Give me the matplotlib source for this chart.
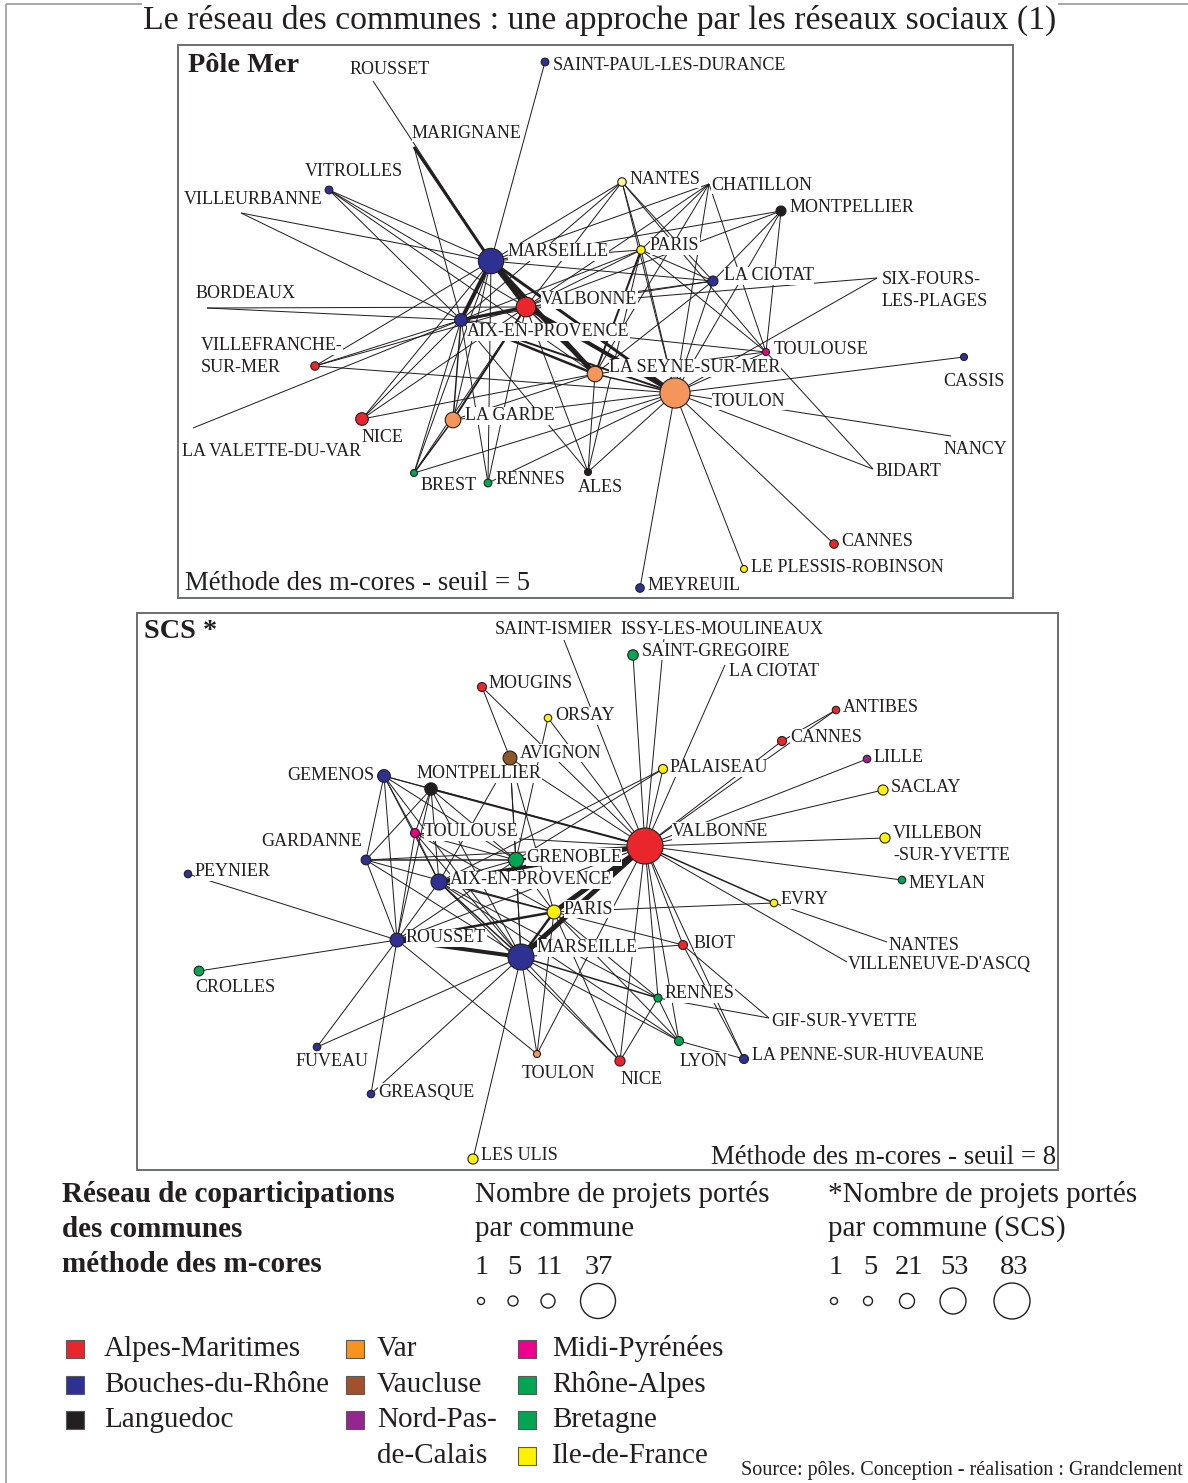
import numpy as np
import matplotlib
matplotlib.use("Agg")
import matplotlib.pyplot as plt
from matplotlib.patches import Circle, Rectangle

plt.rcParams["font.family"] = ["Liberation Serif", "DejaVu Serif"]
INK = "#231F20"

# region colours
region_colors = {
    "AM": "#E8262B", "BDR": "#2E3192", "LANG": "#231F20", "VAR": "#F4955C",
    "VAUC": "#8B5A2B", "NPC": "#92278F", "MP": "#E6007E", "RA": "#00A651",
    "BRE": "#00A651", "IDF": "#FFF200", "PDL": "#FFF799",
}

# ---------------- Pôle Mer network ----------------
top_pos = {
    "MARSEILLE": (491, 261), "VALBONNE": (526, 307), "AIX-EN-PROVENCE": (461, 320),
    "VITROLLES": (329, 190), "SAINT-PAUL-LES-DURANCE": (545, 62), "ROUSSET": (373, 81),
    "MARIGNANE": (414, 147), "VILLEURBANNE": (241, 213), "BORDEAUX": (207, 308),
    "VILLEFRANCHE-SUR-MER": (315, 366), "NICE": (362, 419), "LA GARDE": (453, 420),
    "BREST": (414, 473), "RENNES": (488, 483), "ALES": (588, 472),
    "LA VALETTE-DU-VAR": (193, 428), "LA SEYNE-SUR-MER": (595, 374), "TOULON": (675, 393),
    "TOULOUSE": (766, 352), "CASSIS": (964, 357), "NANCY": (951, 436), "BIDART": (873, 469),
    "CANNES": (834, 544), "LE PLESSIS-ROBINSON": (744, 569), "MEYREUIL": (640, 588),
    "NANTES": (622, 182), "CHATILLON": (709, 184), "MONTPELLIER": (781, 211),
    "PARIS": (641, 250), "LA CIOTAT": (713, 281), "SIX-FOURS-LES-PLAGES": (877, 278),
}
top_region = {
    "MARSEILLE": "BDR", "VALBONNE": "AM", "AIX-EN-PROVENCE": "BDR", "VITROLLES": "BDR",
    "SAINT-PAUL-LES-DURANCE": "BDR", "VILLEFRANCHE-SUR-MER": "AM", "NICE": "AM",
    "LA GARDE": "VAR", "BREST": "BRE", "RENNES": "BRE", "ALES": "LANG",
    "LA SEYNE-SUR-MER": "VAR", "TOULON": "VAR", "TOULOUSE": "MP", "CASSIS": "BDR",
    "CANNES": "AM", "LE PLESSIS-ROBINSON": "IDF", "MEYREUIL": "BDR", "NANTES": "PDL",
    "MONTPELLIER": "LANG", "PARIS": "IDF", "LA CIOTAT": "BDR",
}
top_projects = {
    "MARSEILLE": 25, "VALBONNE": 18, "AIX-EN-PROVENCE": 9, "VITROLLES": 2,
    "SAINT-PAUL-LES-DURANCE": 2, "VILLEFRANCHE-SUR-MER": 3, "NICE": 9, "LA GARDE": 13,
    "BREST": 1, "RENNES": 2, "ALES": 1, "LA SEYNE-SUR-MER": 13, "TOULON": 31,
    "TOULOUSE": 1, "CASSIS": 1, "CANNES": 3, "LE PLESSIS-ROBINSON": 1, "MEYREUIL": 3,
    "NANTES": 3, "MONTPELLIER": 5, "PARIS": 3, "LA CIOTAT": 5,
}
top_labels = {
    "ROUSSET": ("ROUSSET", 350, 70, "left"),
    "SAINT-PAUL-LES-DURANCE": ("SAINT-PAUL-LES-DURANCE", 553, 65, "left"),
    "MARIGNANE": ("MARIGNANE", 412, 133, "left"),
    "VITROLLES": ("VITROLLES", 305, 171, "left"),
    "VILLEURBANNE": ("VILLEURBANNE", 184, 200, "left"),
    "MARSEILLE": ("MARSEILLE", 508, 252, "left"),
    "PARIS": ("PARIS", 650, 246, "left"),
    "NANTES": ("NANTES", 630, 179, "left"),
    "CHATILLON": ("CHATILLON", 711, 185, "left"),
    "MONTPELLIER": ("MONTPELLIER", 790, 207, "left"),
    "LA CIOTAT": ("LA CIOTAT", 724, 276, "left"),
    "SIX-FOURS-LES-PLAGES": ("SIX-FOURS-\nLES-PLAGES", 882, 280, "left"),
    "BORDEAUX": ("BORDEAUX", 196, 293, "left"),
    "VALBONNE": ("VALBONNE", 541, 300, "left"),
    "AIX-EN-PROVENCE": ("AIX-EN-PROVENCE", 467, 332, "left"),
    "VILLEFRANCHE-SUR-MER": ("VILLEFRANCHE-\nSUR-MER", 201, 346, "left"),
    "TOULOUSE": ("TOULOUSE", 774, 350, "left"),
    "LA SEYNE-SUR-MER": ("LA SEYNE-SUR-MER", 609, 368, "left"),
    "CASSIS": ("CASSIS", 943, 382, "left"),
    "TOULON": ("TOULON", 712, 401, "left"),
    "LA GARDE": ("LA GARDE", 465, 416, "left"),
    "NICE": ("NICE", 362, 437, "left"),
    "LA VALETTE-DU-VAR": ("LA VALETTE-DU-VAR", 182, 452, "left"),
    "NANCY": ("NANCY", 944, 450, "left"),
    "BIDART": ("BIDART", 876, 472, "left"),
    "BREST": ("BREST", 421, 485, "left"),
    "RENNES": ("RENNES", 496, 480, "left"),
    "ALES": ("ALES", 578, 488, "left"),
    "CANNES": ("CANNES", 841, 541, "left"),
    "LE PLESSIS-ROBINSON": ("LE PLESSIS-ROBINSON", 751, 567, "left"),
    "MEYREUIL": ("MEYREUIL", 648, 586, "left"),
}
top_edges = [
    ("ROUSSET", "MARSEILLE", 1), ("MARIGNANE", "MARSEILLE", 3), ("MARIGNANE", "AIX-EN-PROVENCE", 1),
    ("SAINT-PAUL-LES-DURANCE", "MARSEILLE", 1),
    ("VITROLLES", "MARSEILLE", 1), ("VITROLLES", "AIX-EN-PROVENCE", 1), ("VITROLLES", "VALBONNE", 1),
    ("VITROLLES", "LA SEYNE-SUR-MER", 1),
    ("VILLEURBANNE", "MARSEILLE", 1), ("VILLEURBANNE", "AIX-EN-PROVENCE", 1),
    ("BORDEAUX", "VALBONNE", 1), ("BORDEAUX", "AIX-EN-PROVENCE", 1),
    ("VILLEFRANCHE-SUR-MER", "MARSEILLE", 1), ("VILLEFRANCHE-SUR-MER", "AIX-EN-PROVENCE", 1),
    ("VILLEFRANCHE-SUR-MER", "VALBONNE", 1), ("VILLEFRANCHE-SUR-MER", "TOULON", 1),
    ("LA VALETTE-DU-VAR", "AIX-EN-PROVENCE", 1),
    ("NICE", "AIX-EN-PROVENCE", 1), ("NICE", "MARSEILLE", 1), ("NICE", "VALBONNE", 1),
    ("NICE", "LA SEYNE-SUR-MER", 1),
    ("LA GARDE", "AIX-EN-PROVENCE", 1.5), ("LA GARDE", "MARSEILLE", 1), ("LA GARDE", "VALBONNE", 2),
    ("LA GARDE", "TOULON", 1), ("LA GARDE", "LA SEYNE-SUR-MER", 1), ("LA GARDE", "BREST", 1.5),
    ("BREST", "AIX-EN-PROVENCE", 1), ("BREST", "MARSEILLE", 1), ("BREST", "VALBONNE", 1), ("BREST", "TOULON", 1),
    ("RENNES", "AIX-EN-PROVENCE", 1), ("RENNES", "MARSEILLE", 1), ("RENNES", "VALBONNE", 1), ("RENNES", "TOULON", 1),
    ("ALES", "AIX-EN-PROVENCE", 1), ("ALES", "VALBONNE", 1), ("ALES", "LA SEYNE-SUR-MER", 1),
    ("ALES", "TOULON", 1), ("ALES", "PARIS", 1),
    ("MARSEILLE", "VALBONNE", 4), ("MARSEILLE", "AIX-EN-PROVENCE", 4), ("MARSEILLE", "LA SEYNE-SUR-MER", 5),
    ("MARSEILLE", "TOULON", 3), ("MARSEILLE", "PARIS", 1), ("MARSEILLE", "LA CIOTAT", 1),
    ("MARSEILLE", "NANTES", 1), ("MARSEILLE", "CHATILLON", 1), ("MARSEILLE", "MONTPELLIER", 1),
    ("VALBONNE", "TOULON", 4), ("VALBONNE", "AIX-EN-PROVENCE", 3), ("VALBONNE", "LA SEYNE-SUR-MER", 1.5),
    ("VALBONNE", "PARIS", 1), ("VALBONNE", "LA CIOTAT", 1), ("VALBONNE", "SIX-FOURS-LES-PLAGES", 1),
    ("VALBONNE", "NANTES", 1), ("VALBONNE", "CHATILLON", 1), ("VALBONNE", "MONTPELLIER", 1),
    ("AIX-EN-PROVENCE", "LA SEYNE-SUR-MER", 2.5), ("AIX-EN-PROVENCE", "TOULON", 2),
    ("AIX-EN-PROVENCE", "PARIS", 1), ("AIX-EN-PROVENCE", "LA CIOTAT", 1),
    ("AIX-EN-PROVENCE", "TOULOUSE", 1), ("AIX-EN-PROVENCE", "NANTES", 1),
    ("LA SEYNE-SUR-MER", "TOULON", 1.5), ("LA SEYNE-SUR-MER", "PARIS", 2), ("LA SEYNE-SUR-MER", "TOULOUSE", 1),
    ("LA SEYNE-SUR-MER", "CHATILLON", 1), ("LA SEYNE-SUR-MER", "LA CIOTAT", 1),
    ("TOULON", "CASSIS", 1), ("TOULON", "NANCY", 1), ("TOULON", "BIDART", 1), ("TOULON", "CANNES", 1),
    ("TOULON", "LE PLESSIS-ROBINSON", 1), ("TOULON", "MEYREUIL", 1), ("TOULON", "TOULOUSE", 1),
    ("TOULON", "LA CIOTAT", 1), ("TOULON", "PARIS", 1), ("TOULON", "MONTPELLIER", 1),
    ("TOULON", "NANTES", 1), ("TOULON", "CHATILLON", 1), ("TOULON", "SIX-FOURS-LES-PLAGES", 1),
    ("TOULOUSE", "CHATILLON", 1), ("TOULOUSE", "NANTES", 1), ("TOULOUSE", "BIDART", 1),
    ("TOULOUSE", "MONTPELLIER", 1), ("TOULOUSE", "PARIS", 1),
    ("NANTES", "PARIS", 1), ("NANTES", "LA CIOTAT", 1), ("CHATILLON", "PARIS", 1),
    ("PARIS", "LA CIOTAT", 1), ("MONTPELLIER", "LA CIOTAT", 1),
]

# ---------------- SCS network ----------------
bot_pos = {
    "VALBONNE": (645, 846), "MARSEILLE": (521, 957), "ROUSSET": (397, 940),
    "AIX-EN-PROVENCE": (439, 882), "PARIS": (554, 912), "GRENOBLE": (516, 860),
    "TOULOUSE": (415, 833), "GARDANNE": (366, 860), "PEYNIER": (188, 874),
    "GEMENOS": (384, 776), "MONTPELLIER": (431, 789), "AVIGNON": (510, 758),
    "MOUGINS": (482, 687), "ORSAY": (548, 718), "SAINT-ISMIER": (564, 640),
    "ISSY-LES-MOULINEAUX": (664, 638), "SAINT-GREGOIRE": (633, 655), "LA CIOTAT": (725, 665),
    "ANTIBES": (836, 710), "CANNES": (782, 741), "LILLE": (867, 759), "SACLAY": (883, 790),
    "VILLEBON-SUR-YVETTE": (885, 838), "MEYLAN": (902, 880), "PALAISEAU": (663, 769),
    "EVRY": (774, 903), "NANTES": (887, 942), "VILLENEUVE-D'ASCQ": (847, 962),
    "BIOT": (683, 945), "RENNES": (658, 998), "GIF-SUR-YVETTE": (769, 1018),
    "LYON": (679, 1041), "LA PENNE-SUR-HUVEAUNE": (744, 1059), "NICE": (620, 1061),
    "TOULON": (537, 1054), "LES ULIS": (473, 1159), "GREASQUE": (371, 1094),
    "FUVEAU": (317, 1047), "CROLLES": (199, 971),
}
bot_region = {
    "VALBONNE": "AM", "MARSEILLE": "BDR", "ROUSSET": "BDR", "AIX-EN-PROVENCE": "BDR",
    "PARIS": "IDF", "GRENOBLE": "RA", "TOULOUSE": "MP", "GARDANNE": "BDR", "PEYNIER": "BDR",
    "GEMENOS": "BDR", "MONTPELLIER": "LANG", "AVIGNON": "VAUC", "MOUGINS": "AM", "ORSAY": "IDF",
    "SAINT-GREGOIRE": "BRE", "ANTIBES": "AM", "CANNES": "AM", "LILLE": "NPC", "SACLAY": "IDF",
    "VILLEBON-SUR-YVETTE": "IDF", "MEYLAN": "RA", "PALAISEAU": "IDF", "EVRY": "IDF",
    "BIOT": "AM", "RENNES": "BRE", "LYON": "RA", "LA PENNE-SUR-HUVEAUNE": "BDR", "NICE": "AM",
    "TOULON": "VAR", "LES ULIS": "IDF", "GREASQUE": "BDR", "FUVEAU": "BDR", "CROLLES": "RA",
}
bot_projects = {
    "VALBONNE": 83, "MARSEILLE": 53, "ROUSSET": 18, "AIX-EN-PROVENCE": 24, "PARIS": 18,
    "GRENOBLE": 21, "TOULOUSE": 5, "GARDANNE": 7, "PEYNIER": 2, "GEMENOS": 15,
    "MONTPELLIER": 14, "AVIGNON": 18, "MOUGINS": 5, "ORSAY": 2, "SAINT-GREGOIRE": 9,
    "ANTIBES": 2, "CANNES": 5, "LILLE": 2, "SACLAY": 8, "VILLEBON-SUR-YVETTE": 8,
    "MEYLAN": 2, "PALAISEAU": 5, "EVRY": 2, "BIOT": 5, "RENNES": 3, "LYON": 5,
    "LA PENNE-SUR-HUVEAUNE": 5, "NICE": 8, "TOULON": 1, "LES ULIS": 8, "GREASQUE": 2,
    "FUVEAU": 2, "CROLLES": 7,
}
bot_labels = {
    "SAINT-ISMIER": ("SAINT-ISMIER", 495, 630, "left"),
    "ISSY-LES-MOULINEAUX": ("ISSY-LES-MOULINEAUX", 620, 630, "left"),
    "SAINT-GREGOIRE": ("SAINT-GREGOIRE", 642, 651, "left"),
    "LA CIOTAT": ("LA CIOTAT", 729, 672, "left"),
    "MOUGINS": ("MOUGINS", 489, 684, "left"),
    "ANTIBES": ("ANTIBES", 843, 708, "left"),
    "ORSAY": ("ORSAY", 555, 716, "left"),
    "CANNES": ("CANNES", 790, 738, "left"),
    "AVIGNON": ("AVIGNON", 520, 753, "left"),
    "LILLE": ("LILLE", 874, 758, "left"),
    "PALAISEAU": ("PALAISEAU", 670, 768, "left"),
    "GEMENOS": ("GEMENOS", 374, 775, "right"),
    "MONTPELLIER": ("MONTPELLIER", 417, 774, "left"),
    "SACLAY": ("SACLAY", 891, 787, "left"),
    "TOULOUSE": ("TOULOUSE", 424, 832, "left"),
    "VALBONNE": ("VALBONNE", 672, 831, "left"),
    "VILLEBON-SUR-YVETTE": ("VILLEBON\n-SUR-YVETTE", 893, 834, "left"),
    "GARDANNE": ("GARDANNE", 362, 841, "right"),
    "GRENOBLE": ("GRENOBLE", 526, 857, "left"),
    "PEYNIER": ("PEYNIER", 195, 872, "left"),
    "AIX-EN-PROVENCE": ("AIX-EN-PROVENCE", 450, 880, "left"),
    "MEYLAN": ("MEYLAN", 909, 883, "left"),
    "EVRY": ("EVRY", 781, 900, "left"),
    "PARIS": ("PARIS", 564, 909, "left"),
    "ROUSSET": ("ROUSSET", 406, 938, "left"),
    "BIOT": ("BIOT", 694, 943, "left"),
    "NANTES": ("NANTES", 889, 945, "left"),
    "MARSEILLE": ("MARSEILLE", 537, 948, "left"),
    "VILLENEUVE-D'ASCQ": ("VILLENEUVE-D'ASCQ", 848, 964, "left"),
    "CROLLES": ("CROLLES", 195, 988, "left"),
    "RENNES": ("RENNES", 665, 994, "left"),
    "GIF-SUR-YVETTE": ("GIF-SUR-YVETTE", 771, 1021, "left"),
    "LA PENNE-SUR-HUVEAUNE": ("LA PENNE-SUR-HUVEAUNE", 752, 1056, "left"),
    "FUVEAU": ("FUVEAU", 296, 1062, "left"),
    "LYON": ("LYON", 680, 1061, "left"),
    "TOULON": ("TOULON", 522, 1074, "left"),
    "NICE": ("NICE", 621, 1079, "left"),
    "GREASQUE": ("GREASQUE", 378, 1092, "left"),
    "LES ULIS": ("LES ULIS", 481, 1156, "left"),
}
bot_edges = [
    ("VALBONNE", "SAINT-ISMIER", 1), ("VALBONNE", "ISSY-LES-MOULINEAUX", 1), ("VALBONNE", "SAINT-GREGOIRE", 1),
    ("VALBONNE", "LA CIOTAT", 1), ("VALBONNE", "PALAISEAU", 1), ("VALBONNE", "CANNES", 1),
    ("VALBONNE", "ANTIBES", 1), ("VALBONNE", "LILLE", 1), ("VALBONNE", "SACLAY", 1),
    ("VALBONNE", "VILLEBON-SUR-YVETTE", 1), ("VALBONNE", "MEYLAN", 1), ("VALBONNE", "EVRY", 1.5),
    ("VALBONNE", "VILLENEUVE-D'ASCQ", 1), ("VALBONNE", "BIOT", 1), ("VALBONNE", "RENNES", 1),
    ("VALBONNE", "LYON", 1), ("VALBONNE", "NICE", 1), ("VALBONNE", "LA PENNE-SUR-HUVEAUNE", 1),
    ("VALBONNE", "ORSAY", 1), ("VALBONNE", "AVIGNON", 1), ("VALBONNE", "MOUGINS", 1),
    ("VALBONNE", "MONTPELLIER", 2), ("VALBONNE", "GEMENOS", 1), ("VALBONNE", "GRENOBLE", 2.5),
    ("VALBONNE", "AIX-EN-PROVENCE", 4), ("VALBONNE", "PARIS", 5), ("VALBONNE", "MARSEILLE", 5),
    ("VALBONNE", "ROUSSET", 1), ("VALBONNE", "TOULOUSE", 1), ("VALBONNE", "GARDANNE", 1),
    ("VALBONNE", "TOULON", 1), ("CANNES", "ANTIBES", 1),
    ("MARSEILLE", "ROUSSET", 4), ("MARSEILLE", "AIX-EN-PROVENCE", 1.5), ("MARSEILLE", "PARIS", 2.5),
    ("MARSEILLE", "GRENOBLE", 1), ("MARSEILLE", "TOULOUSE", 1), ("MARSEILLE", "GEMENOS", 1),
    ("MARSEILLE", "MONTPELLIER", 1), ("MARSEILLE", "GARDANNE", 1), ("MARSEILLE", "BIOT", 1),
    ("MARSEILLE", "RENNES", 1.5), ("MARSEILLE", "LYON", 1), ("MARSEILLE", "NICE", 1),
    ("MARSEILLE", "TOULON", 1), ("MARSEILLE", "LES ULIS", 1), ("MARSEILLE", "GREASQUE", 1),
    ("MARSEILLE", "FUVEAU", 1), ("MARSEILLE", "AVIGNON", 1),
    ("ROUSSET", "PEYNIER", 1), ("ROUSSET", "CROLLES", 1), ("ROUSSET", "FUVEAU", 1),
    ("ROUSSET", "GREASQUE", 1), ("ROUSSET", "AIX-EN-PROVENCE", 1), ("ROUSSET", "PARIS", 2.5),
    ("ROUSSET", "GEMENOS", 1), ("ROUSSET", "GARDANNE", 1), ("ROUSSET", "TOULOUSE", 1),
    ("ROUSSET", "MONTPELLIER", 1), ("ROUSSET", "TOULON", 1), ("ROUSSET", "GRENOBLE", 1),
    ("GARDANNE", "GEMENOS", 1), ("GARDANNE", "MONTPELLIER", 1), ("GARDANNE", "GRENOBLE", 1.5),
    ("GARDANNE", "PARIS", 1),
    ("GEMENOS", "MONTPELLIER", 1), ("GEMENOS", "TOULOUSE", 1), ("GEMENOS", "AIX-EN-PROVENCE", 1),
    ("GEMENOS", "GRENOBLE", 1),
    ("MONTPELLIER", "TOULOUSE", 1), ("MONTPELLIER", "GRENOBLE", 1), ("MONTPELLIER", "AIX-EN-PROVENCE", 1),
    ("TOULOUSE", "GRENOBLE", 1), ("TOULOUSE", "PARIS", 1), ("TOULOUSE", "AIX-EN-PROVENCE", 1),
    ("AVIGNON", "MOUGINS", 1), ("AVIGNON", "GRENOBLE", 1), ("AVIGNON", "AIX-EN-PROVENCE", 1),
    ("AVIGNON", "PARIS", 1), ("ORSAY", "GRENOBLE", 1),
    ("GRENOBLE", "PARIS", 1), ("GRENOBLE", "AIX-EN-PROVENCE", 1),
    ("AIX-EN-PROVENCE", "PARIS", 1.5), ("AIX-EN-PROVENCE", "NICE", 1), ("AIX-EN-PROVENCE", "RENNES", 1),
    ("AIX-EN-PROVENCE", "LYON", 1),
    ("PARIS", "EVRY", 1), ("PARIS", "BIOT", 1), ("PARIS", "RENNES", 1), ("PARIS", "LYON", 1),
    ("PARIS", "NICE", 1), ("PARIS", "TOULON", 1), ("EVRY", "NANTES", 1),
    ("BIOT", "GIF-SUR-YVETTE", 1), ("BIOT", "LA PENNE-SUR-HUVEAUNE", 1),
    ("RENNES", "GIF-SUR-YVETTE", 1), ("RENNES", "LYON", 1), ("RENNES", "NICE", 1),
    ("LYON", "LA PENNE-SUR-HUVEAUNE", 1),
    ("PALAISEAU", "GRENOBLE", 1), ("PALAISEAU", "AIX-EN-PROVENCE", 1),
]

# size legends
top_legend_values = [1, 5, 11, 37]
top_legend_radius = [3.5, 5, 7, 17.5]
bot_legend_values = [1, 5, 21, 53, 83]
bot_legend_radius = [3.5, 4.5, 7.5, 13, 18]

legend_regions = ["Alpes-Maritimes", "Bouches-du-Rhône", "Languedoc", "Var", "Vaucluse",
                  "Nord-Pas-\nde-Calais", "Midi-Pyrénées", "Rhône-Alpes", "Bretagne", "Ile-de-France"]
legend_colors = ["#E8262B", "#2E3192", "#231F20", "#F7941D", "#A0522D",
                 "#92278F", "#EC008C", "#00A651", "#00A651", "#FFF200"]

W, H = 1188, 1483
fig = plt.figure(figsize=(W / 100, H / 100), dpi=100)
ax = fig.add_axes([0, 0, 1, 1])
ax.set_xlim(0, W)
ax.set_ylim(H, 0)
ax.axis("off")

PX = 0.72  # px -> pt
LINE_GAP = 22


def draw_network(pos, region, projects, labels, edges, lv, lr):
    for a, b, w in edges:
        (x1, y1), (x2, y2) = pos[a], pos[b]
        ax.plot([x1, x2], [y1, y2], color=INK, lw=w * PX, solid_capstyle="butt", zorder=1)
    for name, (txt, lx, ly, ha) in labels.items():
        for k, line in enumerate(txt.split("\n")):
            ax.text(lx, ly + k * LINE_GAP, line, fontsize=13, color=INK, ha=ha, va="center",
                    zorder=2, bbox=dict(facecolor="white", edgecolor="none", pad=0.3))
    for name, reg in region.items():
        r = np.interp(projects[name], lv, lr)
        x, y = pos[name]
        ax.add_patch(Circle((x, y), r, facecolor=region_colors[reg], edgecolor=INK,
                            lw=0.8, zorder=3))


# outer frame
ax.add_patch(Rectangle((6, 4), W, H, fill=False, edgecolor="#9A9A9A", lw=1.2, zorder=0))
ax.text(600, 20, "Le réseau des communes : une approche par les réseaux sociaux (1)",
        fontsize=24.3, color=INK, ha="center", va="center",
        bbox=dict(facecolor="white", edgecolor="none", pad=1))

# panels
ax.add_patch(Rectangle((178, 45), 835, 553, fill=False, edgecolor="#6D6E71", lw=1.4, zorder=0))
ax.add_patch(Rectangle((137, 613), 921, 557, fill=False, edgecolor="#6D6E71", lw=1.4, zorder=0))

draw_network(top_pos, top_region, top_projects, top_labels, top_edges,
             top_legend_values, top_legend_radius)
draw_network(bot_pos, bot_region, bot_projects, bot_labels, bot_edges,
             bot_legend_values, bot_legend_radius)

ax.text(188, 65, "Pôle Mer", fontsize=20.3, fontweight="bold", color=INK, ha="left", va="center")
ax.text(144, 632, "SCS *", fontsize=20.3, fontweight="bold", color=INK, ha="left", va="center")
ax.text(185, 584, "Méthode des m-cores - seuil = 5", fontsize=19.3, color=INK, ha="left", va="center")
ax.text(1056, 1158, "Méthode des m-cores - seuil = 8", fontsize=19.3, color=INK, ha="right", va="center")

# legend titles
for k, line in enumerate(["Réseau de coparticipations", "des communes", "méthode des m-cores"]):
    ax.text(62, 1194 + k * 35.5, line, fontsize=21, fontweight="bold", color=INK, ha="left", va="center")
for k, line in enumerate(["Nombre de projets portés", "par commune"]):
    ax.text(475, 1194 + k * 35, line, fontsize=21, color=INK, ha="left", va="center")
for k, line in enumerate(["*Nombre de projets portés", "par commune (SCS)"]):
    ax.text(828, 1194 + k * 35, line, fontsize=21, color=INK, ha="left", va="center")

# size legends
for v, r, x in zip(top_legend_values, top_legend_radius, [482, 514, 549, 599]):
    ax.text(x, 1268, str(v), fontsize=20.5, color=INK, ha="center", va="center")
    ax.add_patch(Circle((x - 1, 1301), r, facecolor="white", edgecolor=INK, lw=1.0))
for v, r, x in zip(bot_legend_values, bot_legend_radius, [836, 870, 909, 955, 1014]):
    ax.text(x, 1268, str(v), fontsize=20.5, color=INK, ha="center", va="center")
    ax.add_patch(Circle((x - 2, 1301), r, facecolor="white", edgecolor=INK, lw=1.0))

# colour legend
col_x = [66, 346, 518]
text_dx = [38, 31, 34]
row_y = [1349, 1385, 1420, 1456]
slots = [(0, 0), (0, 1), (0, 2), (1, 0), (1, 1), (1, 2), (2, 0), (2, 1), (2, 2), (2, 3)]
for lab, col, (c, rw) in zip(legend_regions, legend_colors, slots):
    x, y = col_x[c], row_y[rw]
    ax.add_patch(Rectangle((x, y - 9), 18, 18, facecolor=col, edgecolor="#58595B", lw=0.8))
    for k, line in enumerate(lab.split("\n")):
        ax.text(x + text_dx[c], row_y[rw + k], line, fontsize=21, color=INK, ha="left", va="center")

ax.text(1183, 1471, "Source: pôles. Conception - réalisation : Grandclement", fontsize=14.5,
        color=INK, ha="right", va="center")

fig.savefig("out.png", dpi=100, facecolor="white")
